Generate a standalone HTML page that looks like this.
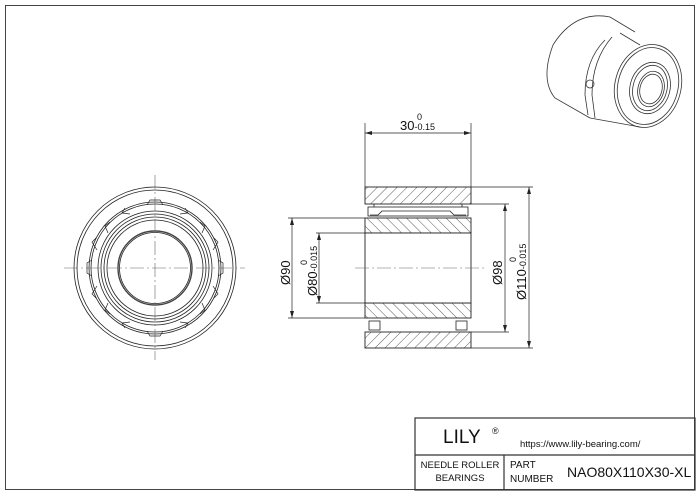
<!DOCTYPE html>
<html><head><style>
html,body{margin:0;padding:0;background:#fff;}
svg{display:block;font-family:"Liberation Sans",Arial,sans-serif;}
</style></head><body>
<svg width="700" height="495" viewBox="0 0 700 495" xmlns="http://www.w3.org/2000/svg">
<defs>
<pattern id="h" patternUnits="userSpaceOnUse" width="7" height="7" patternTransform="rotate(45)">
<rect width="7" height="7" fill="#fff"/><line x1="0" y1="0" x2="0" y2="7" stroke="#333" stroke-width="0.8"/>
</pattern>
<pattern id="h2" patternUnits="userSpaceOnUse" width="7" height="7" patternTransform="rotate(-45)">
<rect width="7" height="7" fill="#fff"/><line x1="0" y1="0" x2="0" y2="7" stroke="#333" stroke-width="0.8"/>
</pattern>
</defs>
<rect x="5.5" y="5.5" width="689" height="484" fill="none" stroke="#444" stroke-width="1"/>
<!-- left view -->
<g fill="none" stroke="#222" stroke-width="0.8">
<circle cx="155" cy="268" r="81"/>
<circle cx="155" cy="268" r="78"/>
<circle cx="155" cy="268" r="66"/>
<circle cx="155" cy="268" r="64"/>
<circle cx="155" cy="268" r="57"/>
<circle cx="155" cy="268" r="54"/>
<circle cx="155" cy="268" r="51"/>
<circle cx="155" cy="268" r="48"/>
<circle cx="155" cy="268" r="37" stroke-width="1.4" stroke="#444"/>
<circle cx="155" cy="268" r="35.5"/>
</g>
<g stroke="#666" stroke-width="0.6" stroke-dasharray="14,3,2,3" fill="none">
<line x1="64" y1="268" x2="245" y2="268"/>
<line x1="155" y1="175" x2="155" y2="360"/>
</g>
<g fill="none" stroke="#222" stroke-width="0.7">
<path d="M147,205 L150,200 L160,200 L163,205"/>
<path d="M147,331 L150,336 L160,336 L163,331"/>
<path d="M92,260 L87,263 L87,273 L92,276"/>
<path d="M218,260 L223,263 L223,273 L218,276"/>
<path d="M110,222 L105,226 L108,233"/>
<path d="M200,222 L205,226 L202,233"/>
<path d="M110,314 L105,310 L108,303"/>
<path d="M200,314 L205,310 L202,303"/>
<path d="M125,208 L122,213 L130,214"/>
<path d="M185,208 L188,213 L180,214"/>
<path d="M125,328 L122,323 L130,322"/>
<path d="M185,328 L188,323 L180,322"/>
<path d="M96,238 L92,242 L97,250"/>
<path d="M214,238 L218,242 L213,250"/>
<path d="M96,298 L92,294 L97,286"/>
<path d="M214,298 L218,294 L213,286"/>
</g>
<!-- section view -->
<g stroke="#222" stroke-width="0.9">
<rect x="365" y="187" width="106" height="17" fill="url(#h)"/>
<rect x="365" y="218" width="106" height="15" fill="url(#h2)"/>
<rect x="365" y="303" width="106" height="15" fill="url(#h2)"/>
<rect x="365" y="332" width="106" height="16" fill="url(#h)"/>
<rect x="365" y="233" width="106" height="70" fill="#fff"/>
</g>
<g fill="none" stroke="#222" stroke-width="0.8">
<rect x="368" y="207" width="100" height="9"/>
<path d="M370,215 L378,215 L382,211 L450,211 L454,215 L466,215"/>
<line x1="374" y1="204" x2="374" y2="207"/><line x1="462" y1="204" x2="462" y2="207"/>
<rect x="369" y="321" width="11" height="9"/>
<rect x="456" y="321" width="11" height="9"/>
</g>
<line x1="355" y1="268" x2="485" y2="268" stroke="#666" stroke-width="0.6" stroke-dasharray="14,3,2,3"/>
<!-- dims -->
<g stroke="#222" stroke-width="0.7" fill="none">
<line x1="365" y1="123" x2="365" y2="187"/>
<line x1="471" y1="123" x2="471" y2="187"/>
<line x1="365" y1="133" x2="471" y2="133"/>
<line x1="288" y1="218" x2="365" y2="218"/>
<line x1="288" y1="318" x2="365" y2="318"/>
<line x1="292" y1="218" x2="292" y2="318"/>
<line x1="316" y1="233" x2="365" y2="233"/>
<line x1="316" y1="303" x2="365" y2="303"/>
<line x1="319" y1="233" x2="319" y2="303"/>
<line x1="471" y1="204" x2="509" y2="204"/>
<line x1="471" y1="332" x2="509" y2="332"/>
<line x1="505" y1="204" x2="505" y2="332"/>
<line x1="471" y1="187" x2="533" y2="187"/>
<line x1="471" y1="348" x2="533" y2="348"/>
<line x1="529" y1="187" x2="529" y2="348"/>
</g>
<g fill="#222">
<path d="M365,133 l7,-2 v4z"/><path d="M471,133 l-7,-2 v4z"/>
<path d="M292,218 l-2,7 h4z"/><path d="M292,318 l-2,-7 h4z"/>
<path d="M319,233 l-2,7 h4z"/><path d="M319,303 l-2,-7 h4z"/>
<path d="M505,204 l-2,7 h4z"/><path d="M505,332 l-2,-7 h4z"/>
<path d="M529,187 l-2,7 h4z"/><path d="M529,348 l-2,-7 h4z"/>
</g>
<g fill="#111" font-size="13">
<text x="400" y="130">30<tspan font-size="9" dy="0">-0.15</tspan></text>
<text x="417" y="120" font-size="9">0</text>
<text transform="translate(290,285) rotate(-90)">Ø90</text>
<text transform="translate(317,296) rotate(-90)">Ø80<tspan font-size="9">-0.015</tspan></text>
<text transform="translate(307,265) rotate(-90)" font-size="9">0</text>
<text transform="translate(502,285) rotate(-90)">Ø98</text>
<text transform="translate(526,300) rotate(-90)">Ø110<tspan font-size="9">-0.015</tspan></text>
<text transform="translate(516,262) rotate(-90)" font-size="9">0</text>
</g>
<!-- 3D view -->
<g fill="none" stroke="#333" stroke-width="0.8">
<path d="M553,45 Q575,10 610,17 L635,32"/>
<path d="M553,45 Q540,80 555,98 L590,118"/>
<ellipse cx="648" cy="86" rx="33" ry="42" transform="rotate(15 648 86)"/>
<ellipse cx="648" cy="86" rx="30" ry="39" transform="rotate(15 648 86)"/>
<ellipse cx="650" cy="88" rx="20" ry="26" transform="rotate(15 650 88)"/>
<ellipse cx="650" cy="88" rx="17" ry="23" transform="rotate(15 650 88)"/>
<ellipse cx="651" cy="89" rx="13" ry="18" transform="rotate(15 651 89)"/>
<ellipse cx="651" cy="89" rx="11" ry="15" transform="rotate(15 651 89)"/>
<path d="M605,40 Q585,60 585,95 L588,115"/>
<path d="M612,37 Q592,60 592,95 L595,118"/>
<path d="M620,33 L640,45"/><path d="M590,118 L640,127"/>
<circle cx="590" cy="84" r="4"/>
</g>
<!-- title block -->
<g fill="none" stroke="#333" stroke-width="1.2">
<rect x="415" y="418" width="280" height="72"/>
<line x1="415" y1="455" x2="695" y2="455"/>
<line x1="504" y1="455" x2="504" y2="490"/>
</g>
<g fill="#111">
<text x="443" y="443" font-size="19">LILY</text>
<text x="492" y="434" font-size="9">®</text>
<text x="520" y="447" font-size="9.5">https://www.lily-bearing.com/</text>
<text x="460" y="468" font-size="9.5" text-anchor="middle">NEEDLE ROLLER</text>
<text x="460" y="481" font-size="9.5" text-anchor="middle">BEARINGS</text>
<text x="510" y="468" font-size="10">PART</text>
<text x="510" y="482" font-size="10">NUMBER</text>
<text x="567" y="477" font-size="14">NAO80X110X30-XL</text>
</g>
</svg>
</body></html>
